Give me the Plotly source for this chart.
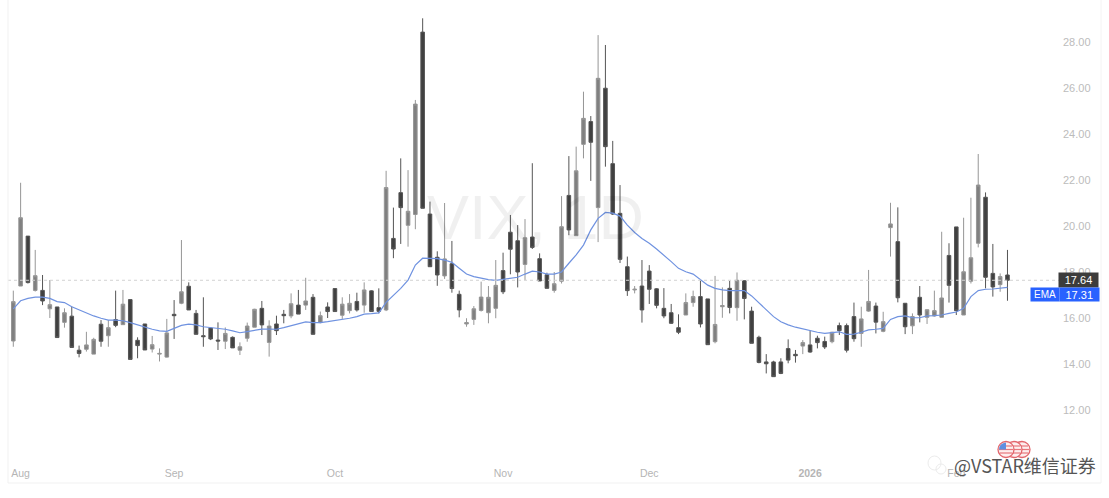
import plotly.graph_objects as go

W, H = 1109, 498

# daily VIX candles
opens = [15.0, 17.39, 19.56, 17.2, 17.2, 16.4, 16.48, 15.81, 16.08, 14.6,
         14.64, 14.43, 15.73, 15.23, 15.93, 15.71, 16.8, 15.03, 15.74, 14.65,
         14.43, 14.3, 16.16, 16.64, 17.38, 16.2, 15.23, 15.56, 15.04, 14.99,
         15.16, 14.6, 15.12, 15.6, 16.42, 14.94, 15.74, 16.16, 16.09, 16.56,
         16.56, 16.9, 15.8, 16.48, 17.28, 16.12, 16.32, 16.72, 16.56, 17.18,
         16.45, 16.35, 19.46, 21.45, 20.03, 20.5, 28.43, 20.52, 18.64, 17.83,
         18.36, 17.03, 15.74, 15.94, 16.33, 16.23, 16.42, 18.06, 19.73, 19.36,
         18.33, 19.52, 18.58, 17.88, 17.2, 17.6, 21.33, 19.58, 23.55, 24.54,
         20.8, 25.99, 22.71, 20.55, 18.23, 17.22, 17.39, 18.04, 17.27, 16.42,
         16.23, 15.58, 16.13, 16.67, 16.93, 16.83, 14.97, 16.49, 17.29, 16.45,
         17.62, 16.3, 15.16, 14.09, 14.09, 14.09, 14.67, 14.42, 14.78, 14.83,
         15.12, 14.98, 14.97, 15.67, 15.67, 16.06, 15.33, 16.3, 16.52, 15.42,
         19.93, 19.32, 16.64, 15.66, 16.9, 16.03, 16.09, 16.03, 18.72, 19.96,
         16.13, 17.6, 19.25, 21.25, 17.94, 17.45, 17.87]
highs = [17.19, 21.88, 19.56, 18.96, 17.87, 17.65, 16.48, 16.42, 16.5, 14.8,
         15.4, 15.14, 15.91, 15.91, 17.19, 17.22, 16.8, 15.16, 15.74, 15.22,
         14.68, 15.96, 16.78, 19.39, 17.55, 16.35, 16.9, 15.59, 15.81, 15.59,
         15.2, 14.94, 15.8, 16.4, 16.74, 15.9, 16.1, 16.35, 17.07, 17.22,
         17.75, 17.04, 16.28, 16.68, 17.29, 16.9, 17.04, 17.1, 17.55, 17.2,
         17.29, 22.4, 20.8, 22.94, 22.43, 25.48, 29.03, 21.06, 18.9, 21.0,
         19.35, 17.19, 15.99, 16.52, 17.58, 17.39, 18.52, 18.84, 20.48, 20.04,
         20.3, 22.73, 18.81, 17.97, 18.0, 21.3, 23.04, 23.45, 25.84, 24.78,
         28.3, 27.87, 23.7, 21.78, 18.67, 17.39, 18.52, 18.3, 17.3, 17.3,
         16.61, 16.16, 17.07, 17.19, 17.65, 16.83, 17.83, 17.33, 17.61, 17.98,
         17.65, 16.49, 15.23, 14.43, 14.14, 14.25, 15.07, 14.61, 15.04, 15.45,
         15.23, 15.19, 15.4, 15.8, 15.76, 16.67, 16.49, 18.09, 16.67, 16.27,
         21.01, 20.81, 16.65, 16.2, 17.39, 16.37, 17.19, 19.75, 19.25, 19.96,
         20.36, 21.23, 23.13, 21.46, 19.22, 17.94, 18.96]
lows = [14.75, 17.39, 17.5, 17.15, 16.56, 16.0, 15.15, 15.58, 14.72, 14.29,
        14.54, 14.43, 14.75, 14.75, 15.6, 15.71, 14.2, 14.25, 14.61, 14.5,
        14.11, 14.28, 15.09, 16.6, 16.35, 15.29, 14.75, 15.04, 14.61, 14.65,
        14.7, 14.39, 14.97, 15.6, 15.26, 14.32, 15.26, 15.77, 15.99, 16.17,
        16.35, 15.29, 15.77, 16.0, 16.28, 15.96, 16.2, 16.28, 16.23, 16.28,
        16.2, 16.3, 18.6, 19.22, 19.1, 19.86, 20.77, 18.23, 17.4, 17.7,
        17.1, 16.03, 15.62, 15.7, 16.28, 15.77, 15.99, 17.04, 17.9, 17.33,
        17.65, 19.0, 17.61, 17.29, 17.1, 17.5, 19.6, 19.58, 22.94, 21.96,
        19.3, 22.58, 20.48, 18.39, 16.96, 17.07, 15.8, 16.61, 16.42, 15.99,
        15.74, 15.3, 16.13, 16.49, 15.59, 14.84, 14.9, 16.01, 16.2, 15.88,
        15.94, 14.9, 14.03, 13.59, 13.45, 13.56, 14.03, 14.06, 14.43, 14.49,
        14.68, 14.65, 14.9, 15.26, 14.5, 14.97, 14.75, 16.27, 15.33, 15.38,
        18.67, 16.68, 15.3, 15.3, 15.81, 15.74, 16.06, 16.03, 16.67, 16.13,
        16.13, 17.5, 19.07, 17.29, 16.93, 17.14, 16.75]
closes = [16.71, 20.36, 17.54, 17.84, 16.74, 16.58, 15.15, 16.23, 14.72, 14.46,
          14.83, 15.07, 14.99, 15.58, 15.68, 16.6, 14.2, 14.8, 14.61, 14.84,
          14.46, 15.35, 16.1, 17.14, 16.35, 15.29, 15.19, 15.09, 15.0, 15.33,
          14.7, 14.75, 15.65, 16.38, 15.7, 15.65, 15.45, 16.1, 16.62, 16.17,
          16.74, 15.29, 16.1, 16.28, 16.28, 16.6, 16.64, 16.35, 17.22, 16.28,
          16.29, 21.67, 19.0, 20.8, 20.64, 25.3, 20.77, 18.23, 17.87, 18.57,
          17.28, 16.35, 15.8, 16.4, 16.91, 16.9, 17.42, 17.14, 18.99, 18.0,
          19.49, 19.07, 17.61, 17.29, 17.49, 19.97, 19.83, 22.4, 24.68, 23.64,
          26.42, 23.45, 20.52, 18.55, 17.19, 17.25, 16.35, 17.25, 16.55, 16.09,
          15.77, 15.38, 16.67, 16.93, 15.74, 14.84, 15.72, 16.54, 16.46, 17.64,
          16.85, 14.9, 14.07, 14.01, 13.45, 13.59, 14.17, 14.36, 14.93, 14.52,
          14.93, 14.74, 15.38, 15.45, 14.6, 15.1, 15.96, 16.72, 15.82, 15.84,
          20.09, 16.88, 15.62, 16.06, 16.13, 16.36, 16.32, 16.87, 17.42, 16.32,
          18.01, 18.62, 21.78, 17.77, 17.35, 17.8, 17.64]

ema = [16.4, 16.75, 16.85, 16.91, 16.91, 16.85, 16.71, 16.67, 16.49, 16.35,
       16.2, 16.09, 15.99, 15.91, 15.91, 15.88, 15.8, 15.7, 15.62, 15.51,
       15.44, 15.42, 15.55, 15.68, 15.73, 15.7, 15.62, 15.59, 15.55, 15.51,
       15.44, 15.36, 15.41, 15.48, 15.52, 15.52, 15.51, 15.58, 15.67, 15.75,
       15.83, 15.8, 15.8, 15.84, 15.88, 15.94, 15.99, 16.06, 16.17, 16.19,
       16.22, 16.68, 16.97, 17.29, 17.65, 18.3, 18.6, 18.58, 18.58, 18.52,
       18.42, 18.16, 17.91, 17.8, 17.73, 17.67, 17.64, 17.68, 17.74, 17.77,
       17.91, 18.04, 18.0, 17.91, 17.91, 18.0, 18.38, 18.74, 19.17, 19.83,
       20.33, 20.59, 20.56, 20.43, 20.04, 19.72, 19.46, 19.25, 19.0, 18.74,
       18.45, 18.16, 18.01, 17.91, 17.65, 17.43, 17.29, 17.22, 17.19, 17.19,
       17.19, 16.96, 16.67, 16.38, 16.06, 15.84, 15.7, 15.6, 15.52, 15.45,
       15.38, 15.33, 15.36, 15.4, 15.29, 15.3, 15.38, 15.48, 15.51, 15.55,
       15.94, 16.06, 16.09, 16.01, 16.01, 16.09, 16.1, 16.13, 16.2, 16.26,
       16.42, 16.93, 17.19, 17.25, 17.26, 17.29, 17.33]

candle_idx = list(range(1, len(closes) + 1))

month_ticks = [2, 23, 45, 68, 88, 110, 130]
month_labels = ["Aug", "Sep", "Oct", "Nov", "Dec", "<b>2026</b>", "Feb"]
price_ticks = [12, 14, 16, 18, 20, 22, 24, 26, 28]

last_close = 17.64
last_ema = 17.31

# plot area in page pixels
L, R, T, B = 8, 47, 4, 33


def px(x):
    return (x - L) / (W - L - R)


def py(y):
    return 1 - (y - T) / (H - T - B)


fig = go.Figure()

fig.add_trace(go.Candlestick(
    x=candle_idx, open=opens, high=highs, low=lows, close=closes,
    increasing=dict(line=dict(color="#969696", width=1), fillcolor="#808080"),
    decreasing=dict(line=dict(color="#555555", width=1), fillcolor="#404040"),
    whiskerwidth=0, hoverinfo="skip", showlegend=False,
))

fig.add_trace(go.Scatter(
    x=candle_idx, y=ema, mode="lines", line=dict(color="#6f92e0", width=1.2),
    hoverinfo="skip", showlegend=False,
))

shapes = [
    # last price line
    dict(type="line", xref="paper", yref="y", x0=0, x1=1, y0=last_close, y1=last_close,
         line=dict(color="#d2d2d2", width=1, dash="dot")),
    # faint frame of the pasted screenshot
    dict(type="line", xref="paper", yref="paper", x0=px(8), x1=px(8), y0=py(0), y1=py(483),
         line=dict(color="#f1f1f1", width=1)),
    dict(type="line", xref="paper", yref="paper", x0=px(8), x1=px(1101), y0=py(483), y1=py(483),
         line=dict(color="#f1f1f1", width=1)),
    dict(type="line", xref="paper", yref="paper", x0=px(1101), x1=px(1101), y0=py(0), y1=py(483),
         line=dict(color="#f4f4f4", width=1)),
    # wechat icon, nearly invisible
    dict(type="circle", xref="paper", yref="paper", x0=px(928), x1=px(941), y0=py(470), y1=py(456),
         line=dict(color="#ececec", width=1)),
    dict(type="circle", xref="paper", yref="paper", x0=px(936), x1=px(946), y0=py(474), y1=py(464),
         line=dict(color="#ececec", width=1)),
]

# us flag logo, three overlapping coins
for cx in [1022, 1014, 1006]:
    shapes.append(dict(type="circle", xref="paper", yref="paper",
                       x0=px(cx - 8), x1=px(cx + 8), y0=py(457.5), y1=py(441.5),
                       fillcolor="#fdeeee", line=dict(color="#e2666c", width=1.3)))
    for sy, half in [(446, 6), (449.5, 7), (453, 6)]:
        shapes.append(dict(type="line", xref="paper", yref="paper",
                           x0=px(cx - half), x1=px(cx + half), y0=py(sy), y1=py(sy),
                           line=dict(color="#e8777c", width=1.2)))
shapes.append(dict(type="path", xref="paper", yref="paper",
                   path=f"M {px(999)} {py(449.5)} Q {px(999.5)} {py(443)} {px(1006)} {py(442.5)} "
                        f"L {px(1006)} {py(449.5)} Z",
                   fillcolor="#5f8fe0", line=dict(width=0)))

annotations = [
    # watermark
    dict(text="VIX, 1D", xref="paper", yref="paper", x=px(535), y=py(217), showarrow=False,
         font=dict(family="Liberation Sans", size=63, color="rgba(0,0,0,0.06)")),
    # price tags
    dict(text=f"{last_close:.2f}", xref="paper", yref="paper", x=px(1058), y=py(280),
         xanchor="left", yanchor="middle", showarrow=False, width=39, height=14, borderpad=0,
         bgcolor="#3c3c3c", font=dict(family="Liberation Sans", size=11, color="#ffffff")),
    dict(text="EMA", xref="paper", yref="paper", x=px(1030), y=py(294),
         xanchor="left", yanchor="middle", showarrow=False, width=28, height=13, borderpad=0,
         bgcolor="#2962ff", font=dict(family="Liberation Sans", size=10, color="#ffffff")),
    dict(text=f"{last_ema:.2f}", xref="paper", yref="paper", x=px(1058.5), y=py(294),
         xanchor="left", yanchor="middle", showarrow=False, width=38.5, height=13, borderpad=0,
         bgcolor="#2962ff", font=dict(family="Liberation Sans", size=11, color="#ffffff")),
    # site credit
    dict(text="@VSTAR维信证券", xref="paper", yref="paper", x=px(952), y=py(465),
         xanchor="left", yanchor="middle", showarrow=False,
         font=dict(family="Noto Sans CJK SC", size=18, color="#555555")),
]

fig.update_layout(
    width=W, height=H,
    margin=dict(l=L, r=R, t=T, b=B),
    paper_bgcolor="#ffffff", plot_bgcolor="#ffffff",
    boxgap=0.3,
    font=dict(family="Liberation Sans", size=10, color="#b5b5b5"),
    shapes=shapes, annotations=annotations,
    xaxis=dict(
        range=[0.275, 144.46], rangeslider=dict(visible=False), showgrid=False, zeroline=False,
        showline=False, tickmode="array", tickvals=month_ticks, ticktext=month_labels, ticklen=0,
        tickfont=dict(size=10.5, color="#b5b5b5"),
    ),
    yaxis=dict(
        range=[9.609, 29.652], side="right", showgrid=False, zeroline=False, showline=False,
        tickmode="array", tickvals=price_ticks, tickformat=".2f", ticklen=0,
        tickfont=dict(size=11, color="#bcbcbc"),
    ),
)

# the page body has a default 8px margin, the picture starts at the corner
fig.write_html("out.html", config={"displayModeBar": False},
               post_script="document.body.style.margin='0';")
